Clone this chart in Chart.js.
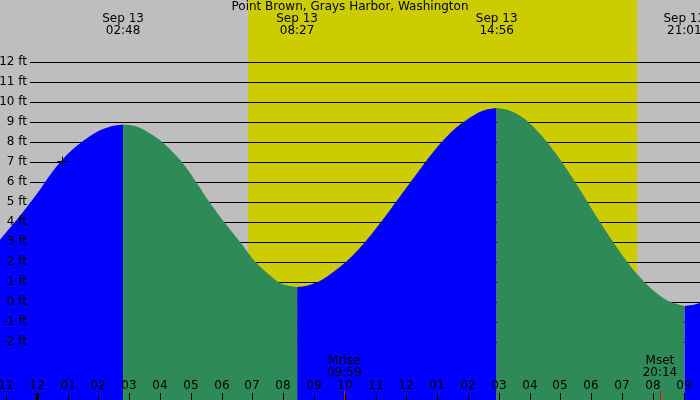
<!DOCTYPE html>
<html><head><meta charset="utf-8">
<script src="https://cdn.jsdelivr.net/npm/chart.js@4/dist/chart.umd.min.js"></script>
<style>html,body{margin:0;padding:0;background:#bebebe}#c{display:block}</style>
</head><body><canvas id="c" width="700" height="400"></canvas>
<script>
const titleText = "Point Brown, Grays Harbor, Washington";
// hours since midnight Sep 13, tide heights (ft)
const rise1H = [-1.2, -0.5, 0, 0.5, 1, 1.5, 2, 2.4, 2.8];
const rise1V = [3.1, 4.4, 5.4, 6.5, 7.4, 8.05, 8.55, 8.78, 8.88];
const fall1H = [2.8, 3.2, 3.6, 4.07, 4.71, 5.17, 5.6, 6.08, 6.6, 7.1, 7.84, 8.2, 8.45];
const fall1V = [8.88, 8.8, 8.5, 8.0, 7.0, 6.0, 5.0, 4.0, 3.0, 2.0, 1.0, 0.8, 0.75];
const rise2H = [8.45, 8.8, 9.3, 10, 10.6, 11.2, 11.8, 12.4, 13, 13.6, 14.2, 14.6, 14.93];
const rise2V = [0.75, 0.82, 1.15, 1.96, 2.9, 4.05, 5.3, 6.55, 7.75, 8.7, 9.35, 9.62, 9.7];
const fall2H = [14.93, 15.3, 15.8, 16.4, 17, 17.6, 18.2, 18.8, 19.4, 20, 20.5, 21.02];
const fall2V = [9.7, 9.6, 9.2, 8.3, 7.1, 5.7, 4.2, 2.8, 1.55, 0.6, 0.05, -0.2];
const rise3H = [21.02, 21.3, 21.6];
const rise3V = [-0.2, -0.15, 0.0];
const eventH = [2.8, 8.45, 14.93, 21.02];
const eventDate = ["Sep 13", "Sep 13", "Sep 13", "Sep 13"];
const eventTime = ["02:48", "08:27", "14:56", "21:01"];
const hourTicks = [-1,0,1,2,3,4,5,6,7,8,9,10,11,12,13,14,15,16,17,18,19,20,21];
const hourLabels = ["11","12","01","02","03","04","05","06","07","08","09","10","11","12","01","02","03","04","05","06","07","08","09"];
const ftTicks = [12,11,10,9,8,7,6,5,4,3,2,1,0,-1,-2];
const ftLabels = ["12 ft","11 ft","10 ft","9 ft","8 ft","7 ft","6 ft","5 ft","4 ft","3 ft","2 ft","1 ft","0 ft","-1 ft","-2 ft"];
const dayStart = 6.86, dayEnd = 19.49;
const moonH = [9.98, 20.23];
const moonName = ["Mrise", "Mset"];
const moonTime = ["09:59", "20:14"];
const markerH = 0.82, markerV = 7.07;

const pts = (h, v) => h.map((x, i) => ({x, y: v[i]}));
const BLUE = '#0000ff', GREEN = '#2e8b57';
const ds = (h, v, c) => ({data: pts(h, v), borderWidth: 0, borderColor: c, backgroundColor: c, fill: 'start', pointRadius: 0, tension: 0.3});

const bg = {
  id: 'bg',
  beforeDatasetsDraw(ch) {
    const c = ch.ctx, x = ch.scales.x, y = ch.scales.y;
    c.save();
    c.fillStyle = '#bebebe'; c.fillRect(0, 0, 700, 400);
    c.fillStyle = '#cccc00';
    c.fillRect(x.getPixelForValue(dayStart), 0, x.getPixelForValue(dayEnd) - x.getPixelForValue(dayStart), 400);
    c.strokeStyle = '#000'; c.lineWidth = 1;
    ftTicks.forEach(v => { const py = Math.round(y.getPixelForValue(v)) + 0.5; c.beginPath(); c.moveTo(30, py); c.lineTo(700, py); c.stroke(); });
    c.restore();
  },
  afterDatasetsDraw(ch) {
    const c = ch.ctx, x = ch.scales.x, y = ch.scales.y;
    c.save();
    c.fillStyle = '#000'; c.font = '12px "DejaVu Sans", sans-serif'; c.textBaseline = 'middle';
    c.textAlign = 'right';
    ftTicks.forEach((v, i) => c.fillText(ftLabels[i], 27, y.getPixelForValue(v)));
    c.textAlign = 'center';
    c.fillText(titleText, 350, 7);
    eventH.forEach((h, i) => { const px = x.getPixelForValue(h); c.fillText(eventDate[i], px, 19); c.fillText(eventTime[i], px, 31); });
    moonH.forEach((h, i) => { const px = x.getPixelForValue(h); c.fillText(moonName[i], px, 361); c.fillText(moonTime[i], px, 373); });
    hourTicks.forEach((h, i) => {
      const px = Math.round(x.getPixelForValue(h));
      c.fillText(hourLabels[i], px, 386);
      c.fillRect(px - (h === 0 ? 1 : 0), 393, h === 0 ? 3 : 1, 7);
    });
    c.fillStyle = '#ff0000';
    moonH.forEach(h => c.fillRect(Math.round(x.getPixelForValue(h)), 391, 1, 9));
    const mx = Math.round(x.getPixelForValue(markerH)) + 0.5, my = Math.round(y.getPixelForValue(markerV)) + 0.5;
    c.strokeStyle = '#000'; c.lineWidth = 1;
    c.beginPath(); c.moveTo(mx - 5, my); c.lineTo(mx + 5, my); c.moveTo(mx, my - 5); c.lineTo(mx, my + 5); c.stroke();
    c.restore();
  }
};

new Chart(document.getElementById('c'), {
  type: 'line',
  data: {datasets: [
    ds(rise1H, rise1V, BLUE), ds(fall1H, fall1V, GREEN), ds(rise2H, rise2V, BLUE),
    ds(fall2H, fall2V, GREEN), ds(rise3H, rise3V, BLUE)
  ]},
  plugins: [bg],
  options: {
    responsive: false, animation: false, events: [],
    layout: {padding: 0},
    plugins: {legend: {display: false}, tooltip: {enabled: false}, title: {display: false}},
    scales: {
      x: {type: 'linear', min: -1.195, max: 21.53, display: false},
      y: {type: 'linear', min: -4.9, max: 15.1, display: false}
    }
  }
});
</script></body></html>
